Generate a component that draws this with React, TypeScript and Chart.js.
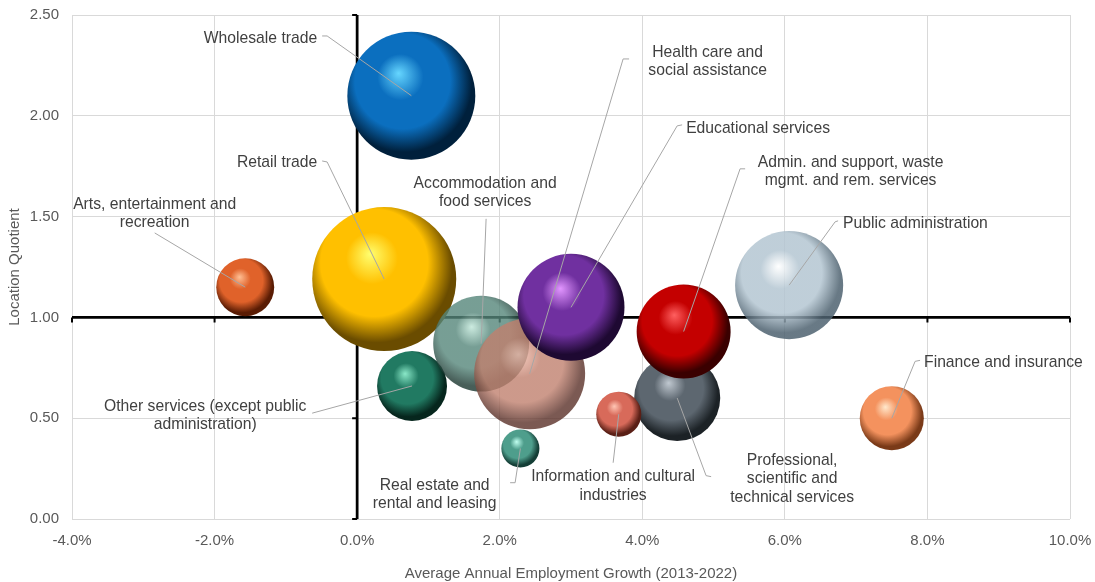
import React, { useEffect, useRef } from 'react';
import { Chart, registerables } from 'chart.js';

Chart.register(...registerables);

// ---- Data ----
const industries = [
  'Arts, entertainment and recreation',
  'Retail trade',
  'Wholesale trade',
  'Other services (except public administration)',
  'Accommodation and food services',
  'Health care and social assistance',
  'Real estate and rental and leasing',
  'Educational services',
  'Professional, scientific and technical services',
  'Information and cultural industries',
  'Admin. and support, waste mgmt. and rem. services',
  'Public administration',
  'Finance and insurance',
];
// Average annual employment growth 2013-2022 (%)
const employmentGrowth = [-1.57, 0.38, 0.76, 0.77, 1.74, 2.42, 2.29, 3.0, 4.49, 3.67, 4.58, 6.06, 7.5];
// Location quotient
const locationQuotient = [1.15, 1.19, 2.1, 0.66, 0.87, 0.72, 0.35, 1.05, 0.6, 0.52, 0.93, 1.16, 0.5];
// Relative bubble size (employment, Retail = 100)
const bubbleSize = [16.2, 100, 79.0, 23.6, 44.4, 59.4, 7.0, 55.2, 35.7, 9.8, 42.6, 56.3, 19.8];

const xTicks = [-4, -2, 0, 2, 4, 6, 8, 10];
const yTicks = [0, 0.5, 1, 1.5, 2, 2.5];

// ---- Styles ----
const FONT = '"Liberation Sans", Arial, sans-serif';
const MAX_RADIUS = 72;
// [highlight, base, dark, alpha]
const sphereColors: [string, string, string, number][] = [
  ['#ffbf94', '#e0622a', '#5a1c04', 1],
  ['#ffff70', '#ffc000', '#6a4c00', 1],
  ['#66d6ff', '#0b6fbf', '#00203c', 1],
  ['#8ae8c8', '#217a62', '#06261d', 1],
  ['#bfe6d8', '#55867a', '#1a362f', 0.8],
  ['#f4c0b0', '#c0806e', '#5a3028', 0.8],
  ['#c0fff0', '#4e9e8c', '#143e36', 1],
  ['#e296ff', '#7030a0', '#1e0932', 1],
  ['#c0c8d0', '#5d6770', '#1c2226', 1],
  ['#ffc6b4', '#d86a5a', '#5a1f16', 1],
  ['#ff6060', '#c40000', '#3a0000', 1],
  ['#ffffff', '#b4c6d2', '#4e6270', 0.85],
  ['#ffe8cc', '#f4925e', '#7a3a18', 1],
];

// Label layout (data coordinates): text anchor, alignment, leader path (ends at bubble)
const labelLayout = [
  { lines: ['Arts, entertainment and', 'recreation'], x: -2.84, y: 1.568, align: 'center', leader: [[-2.84, 1.419]] },
  { lines: ['Retail trade'], x: -0.561, y: 1.776, align: 'right', leader: [[-0.491, 1.776], [-0.421, 1.771]] },
  { lines: ['Wholesale trade'], x: -0.561, y: 2.391, align: 'right', leader: [[-0.491, 2.396], [-0.421, 2.396]] },
  { lines: ['Other services (except public', 'administration)'], x: -2.132, y: 0.567, align: 'center', leader: [[-0.631, 0.525]] },
  { lines: ['Accommodation and', 'food services'], x: 1.795, y: 1.672, align: 'center', leader: [[1.809, 1.489]] },
  { lines: ['Health care and', 'social assistance'], x: 4.917, y: 2.322, align: 'center', leader: [[3.815, 2.282], [3.731, 2.282]] },
  { lines: ['Real estate and', 'rental and leasing'], x: 1.087, y: 0.175, align: 'center', leader: [[2.146, 0.18], [2.216, 0.18]] },
  { lines: ['Educational services'], x: 4.615, y: 1.945, align: 'left', leader: [[4.559, 1.955], [4.489, 1.95]] },
  { lines: ['Professional,', 'scientific and', 'technical services'], x: 6.102, y: 0.298, align: 'center', leader: [[4.966, 0.21], [4.895, 0.215]] },
  { lines: ['Information and cultural', 'industries'], x: 3.591, y: 0.215, align: 'center', leader: [[3.591, 0.279]] },
  { lines: ['Admin. and support, waste', 'mgmt. and rem. services'], x: 6.922, y: 1.776, align: 'center', leader: [[5.443, 1.737], [5.372, 1.737]] },
  { lines: ['Public administration'], x: 6.817, y: 1.474, align: 'left', leader: [[6.747, 1.479], [6.705, 1.474]] },
  { lines: ['Finance and insurance'], x: 7.953, y: 0.785, align: 'left', leader: [[7.897, 0.787], [7.827, 0.782]] },
];

function hexToRgba(hex: string, a: number) {
  const n = parseInt(hex.slice(1), 16);
  return `rgba(${(n >> 16) & 255},${(n >> 8) & 255},${n & 255},${a})`;
}

function sphereFill(context: any) {
  const i = context.dataIndex;
  const [hi, base, dark, alpha] = sphereColors[i] || sphereColors[0];
  const raw = context.raw;
  const chart = context.chart;
  if (!raw || !chart.scales || !chart.scales.x) return hexToRgba(base, alpha);
  const cx = chart.scales.x.getPixelForValue(raw.x);
  const cy = chart.scales.y.getPixelForValue(raw.y);
  const r = raw.r;
  if (!isFinite(cx) || !isFinite(cy) || !r) return hexToRgba(base, alpha);
  const g = chart.ctx.createRadialGradient(cx - 0.2 * r, cy - 0.35 * r, 0, cx - 0.1 * r, cy - 0.15 * r, 1.2 * r);
  g.addColorStop(0, hexToRgba(hi, alpha));
  g.addColorStop(0.3, hexToRgba(base, alpha));
  g.addColorStop(0.62, hexToRgba(base, alpha));
  g.addColorStop(0.88, hexToRgba(dark, alpha));
  g.addColorStop(1, hexToRgba(dark, alpha));
  return g;
}

const crossAxesPlugin = {
  id: 'crossAxes',
  beforeDatasetsDraw(chart: any) {
    const { ctx, chartArea, scales } = chart;
    const xs = scales.x, ys = scales.y;
    const y1 = ys.getPixelForValue(1);
    const x0 = xs.getPixelForValue(0);
    ctx.save();
    ctx.strokeStyle = '#000000';
    ctx.lineWidth = 2.75;
    ctx.lineCap = 'butt';
    ctx.beginPath();
    ctx.moveTo(chartArea.left, y1);
    ctx.lineTo(chartArea.right, y1);
    ctx.moveTo(x0, chartArea.top);
    ctx.lineTo(x0, chartArea.bottom);
    ctx.stroke();
    ctx.lineWidth = 2;
    ctx.beginPath();
    xTicks.forEach((v) => {
      const px = xs.getPixelForValue(v);
      ctx.moveTo(px, y1);
      ctx.lineTo(px, y1 + 5);
    });
    yTicks.forEach((v) => {
      const py = ys.getPixelForValue(v);
      ctx.moveTo(x0, py);
      ctx.lineTo(x0 - 5, py);
    });
    ctx.stroke();
    ctx.restore();
  },
};

const labelsPlugin = {
  id: 'bubbleLabels',
  afterDatasetsDraw(chart: any) {
    const { ctx, scales } = chart;
    const xs = scales.x, ys = scales.y;
    ctx.save();
    ctx.strokeStyle = '#a6a6a6';
    ctx.lineWidth = 1;
    labelLayout.forEach((L, i) => {
      ctx.beginPath();
      L.leader.forEach(([lx, ly], k) => {
        const px = xs.getPixelForValue(lx);
        const py = ys.getPixelForValue(ly);
        if (k === 0) ctx.moveTo(px, py);
        else ctx.lineTo(px, py);
      });
      ctx.lineTo(xs.getPixelForValue(employmentGrowth[i]), ys.getPixelForValue(locationQuotient[i]));
      ctx.stroke();
    });
    ctx.fillStyle = '#404040';
    ctx.font = `15.7px ${FONT}`;
    ctx.textBaseline = 'middle';
    const lh = 18.5;
    labelLayout.forEach((L) => {
      ctx.textAlign = L.align as CanvasTextAlign;
      const px = xs.getPixelForValue(L.x);
      const py = ys.getPixelForValue(L.y) + 1.5;
      L.lines.forEach((t, k) => ctx.fillText(t, px, py + k * lh));
    });
    ctx.restore();
  },
};

export default function App() {
  const ref = useRef<HTMLCanvasElement | null>(null);
  useEffect(() => {
    if (!ref.current) return;
    const points = employmentGrowth.map((x, i) => ({
      x,
      y: locationQuotient[i],
      r: MAX_RADIUS * Math.sqrt(bubbleSize[i] / 100),
      label: industries[i],
    }));
    const tickFont = { family: FONT, size: 15 };
    const chart = new Chart(ref.current, {
      type: 'bubble',
      data: {
        datasets: [
          {
            data: points,
            backgroundColor: sphereFill as any,
            borderWidth: 0,
            hoverBorderWidth: 0,
            clip: false as any,
          },
        ],
      },
      options: {
        animation: false,
        responsive: false,
        events: [],
        layout: { autoPadding: false, padding: { top: 15, right: 25, left: 0, bottom: 0 } },
        plugins: { legend: { display: false }, tooltip: { enabled: false } },
        scales: {
          x: {
            type: 'linear',
            min: -4,
            max: 10,
            afterBuildTicks: (s: any) => {
              s.ticks = xTicks.map((v) => ({ value: v }));
            },
            afterFit: (s: any) => {
              s.height = 63;
              s.paddingLeft = 0;
              s.paddingRight = 0;
              s.paddingTop = 0;
              s.paddingBottom = 0;
            },
            grid: { color: '#d9d9d9', lineWidth: 1, drawTicks: false },
            border: { display: false },
            ticks: {
              color: '#595959',
              font: tickFont,
              padding: 13,
              maxRotation: 0,
              callback: (v: any) => Number(v).toFixed(1) + '%',
            },
            title: {
              display: true,
              text: 'Average Annual Employment Growth (2013-2022)',
              color: '#595959',
              font: { family: FONT, size: 15, lineHeight: 1.05 },
              padding: { top: 0, bottom: 0 },
            },
          },
          y: {
            type: 'linear',
            min: 0,
            max: 2.5,
            afterBuildTicks: (s: any) => {
              s.ticks = yTicks.map((v) => ({ value: v }));
            },
            afterFit: (s: any) => {
              s.width = 72;
              s.paddingLeft = 0;
              s.paddingRight = 0;
              s.paddingTop = 0;
              s.paddingBottom = 0;
            },
            grid: { color: '#d9d9d9', lineWidth: 1, drawTicks: false },
            border: { display: false },
            ticks: {
              color: '#595959',
              font: tickFont,
              padding: 13,
              callback: (v: any) => Number(v).toFixed(2),
            },
            title: {
              display: true,
              text: 'Location Quotient',
              color: '#595959',
              font: tickFont,
              padding: { top: 6, bottom: 0 },
            },
          },
        },
      } as any,
      plugins: [crossAxesPlugin, labelsPlugin],
    });
    return () => chart.destroy();
  }, []);
  return (
    <div style={{ position: 'absolute', left: 0, top: 0, width: 1095, height: 582, background: '#ffffff' }}>
      <canvas ref={ref} width={1095} height={582} style={{ width: 1095, height: 582, display: 'block' }} />
    </div>
  );
}
